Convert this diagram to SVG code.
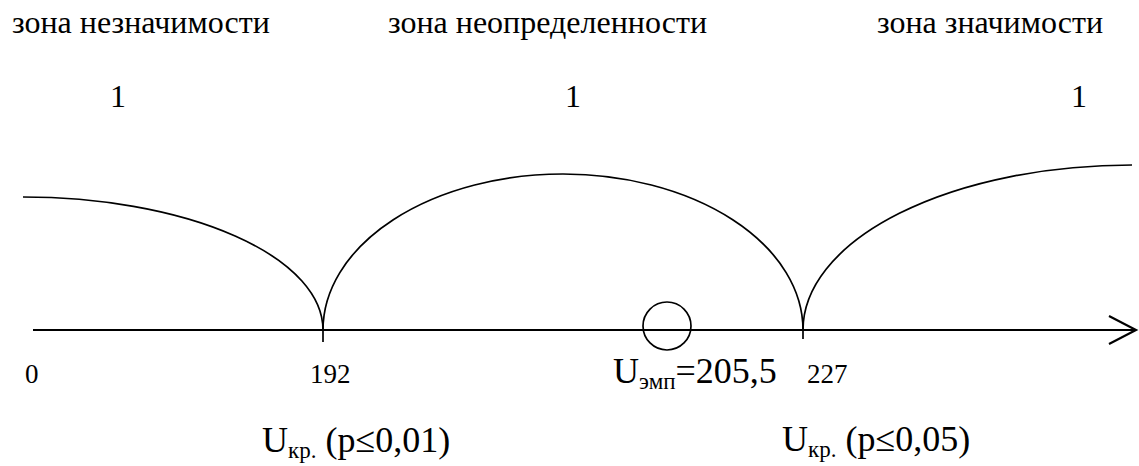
<svg xmlns="http://www.w3.org/2000/svg" width="1139" height="466" viewBox="0 0 1139 466">
<style>
text{font-family:"Liberation Serif","Times New Roman",serif;fill:#000}
.t{font-size:32px}
.n{font-size:27px}
.u{font-size:36px}
.sub{font-size:23px}
.ln{fill:none;stroke:#000;stroke-width:1.7}
.ax{fill:none;stroke:#000;stroke-width:2.2}
</style>
<rect width="1139" height="466" fill="#fff"/>
<g id="labels-top">
<text class="t" x="12" y="33">зона незначимости</text>
<text class="t" x="388" y="33">зона неопределенности</text>
<text class="t" x="877" y="33">зона значимости</text>
<text class="t" x="110" y="107">1</text>
<text class="t" x="565" y="107">1</text>
<text class="t" x="1071" y="107">1</text>
</g>
<g id="connectors">
<path class="ax" d="M33 330 L1135 330"/>
<polyline class="ax" points="1109,316 1136,330 1109,344"/>
<path class="ln" d="M23 197 A300 133 0 0 1 323 330"/>
<path class="ln" d="M323 330 A240 156 0 0 1 803 330"/>
<path class="ln" d="M803 330 A329 165 0 0 1 1132 165"/>
<path class="ln" d="M323 330 L323 342 M803 330 L803 339"/>
</g>
<g id="emp-marker">
<circle class="ln" cx="667" cy="326" r="24"/>
</g>
<g id="labels-bottom">
<text class="n" x="25" y="383">0</text>
<text class="n" x="310" y="383">192</text>
<text class="n" x="807" y="383">227</text>
<text class="u" x="613" y="383">U<tspan class="sub" dy="6">эмп</tspan><tspan dy="-6">=205,5</tspan></text>
<text class="u" x="262" y="452">U<tspan class="sub" dy="6">кр.</tspan><tspan dy="-6"> (p≤0,01)</tspan></text>
<text class="u" x="782" y="451">U<tspan class="sub" dy="6">кр.</tspan><tspan dy="-6"> (p≤0,05)</tspan></text>
</g>
</svg>
